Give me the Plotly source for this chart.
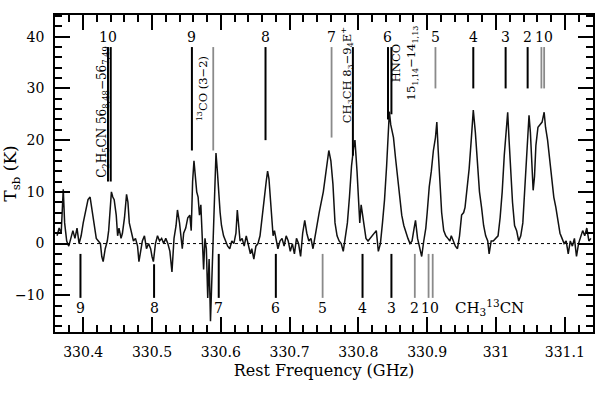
import plotly.graph_objects as go

# spectrum
freq_ghz = [
    330.362, 330.365, 330.368, 330.371, 330.373, 330.376, 330.379, 330.382, 330.385, 330.388,
    330.391, 330.394, 330.397, 330.400, 330.404, 330.407, 330.410, 330.413, 330.416, 330.419,
    330.422, 330.425, 330.427, 330.429, 330.432, 330.435, 330.437, 330.439, 330.441, 330.443,
    330.445, 330.448, 330.450, 330.452, 330.455, 330.457, 330.460, 330.463, 330.465, 330.467,
    330.470, 330.473, 330.476, 330.479, 330.481, 330.483, 330.486, 330.489, 330.492, 330.495,
    330.498, 330.500, 330.502, 330.505, 330.508, 330.511, 330.514, 330.517, 330.520, 330.523,
    330.526, 330.529, 330.532, 330.535, 330.537, 330.540, 330.542, 330.544, 330.546, 330.549,
    330.552, 330.555, 330.557, 330.559, 330.561, 330.563, 330.565, 330.567, 330.569, 330.571,
    330.573, 330.575, 330.577, 330.579, 330.581, 330.583, 330.585, 330.587, 330.589, 330.591,
    330.593, 330.595, 330.597, 330.599, 330.601, 330.604, 330.607, 330.610, 330.613, 330.616,
    330.619, 330.622, 330.624, 330.626, 330.628, 330.631, 330.634, 330.637, 330.640, 330.643,
    330.645, 330.648, 330.651, 330.654, 330.657, 330.660, 330.663, 330.666, 330.668, 330.670,
    330.672, 330.674, 330.676, 330.678, 330.680, 330.683, 330.686, 330.689, 330.692, 330.695,
    330.698, 330.701, 330.704, 330.707, 330.710, 330.713, 330.716, 330.719, 330.722, 330.725,
    330.728, 330.731, 330.734, 330.737, 330.740, 330.743, 330.746, 330.749, 330.752, 330.755,
    330.757, 330.760, 330.763, 330.766, 330.769, 330.772, 330.775, 330.778, 330.781, 330.784,
    330.787, 330.790, 330.793, 330.795, 330.798, 330.800, 330.802, 330.804, 330.806, 330.808,
    330.811, 330.814, 330.817, 330.820, 330.823, 330.826, 330.829, 330.832, 330.835, 330.838,
    330.841, 330.843, 330.845, 330.847, 330.849, 330.851, 330.854, 330.857, 330.860, 330.863,
    330.866, 330.869, 330.872, 330.875, 330.878, 330.881, 330.883, 330.886, 330.889, 330.892,
    330.895, 330.898, 330.900, 330.903, 330.906, 330.909, 330.912, 330.914, 330.916, 330.918,
    330.921, 330.924, 330.927, 330.930, 330.933, 330.935, 330.938, 330.941, 330.944, 330.947,
    330.950, 330.953, 330.955, 330.958, 330.961, 330.964, 330.967, 330.970, 330.973, 330.976,
    330.979, 330.982, 330.985, 330.988, 330.990, 330.993, 330.996, 331.000, 331.003, 331.006,
    331.009, 331.012, 331.015, 331.017, 331.019, 331.021, 331.024, 331.027, 331.030, 331.033,
    331.036, 331.039, 331.041, 331.044, 331.046, 331.048, 331.050, 331.052, 331.054, 331.056,
    331.058, 331.061, 331.064, 331.067, 331.070, 331.072, 331.075, 331.078, 331.081, 331.084,
    331.087, 331.090, 331.093, 331.096, 331.099, 331.102, 331.105, 331.108, 331.111, 331.114,
    331.117, 331.120, 331.123, 331.126, 331.129, 331.132, 331.135, 331.138,
]
t_sb = [
    1.5, 3.0, 2.0, 10.5, 4.0, 0.5, -0.5, 1.0, 2.5, 1.0,
    3.0, 0.0, 1.5, 4.0, 6.5, 8.5, 9.0, 6.0, 3.0, 1.0,
    0.5, 0.0, -2.5, -3.5, -1.0, 0.5, 2.5, 7.5, 10.0, 9.0,
    8.5, 5.5, 1.5, 3.0, 1.0, 2.0, 5.0, 9.5, 8.0, 4.0,
    2.0, 0.5, 1.0, -0.5, -3.5, -1.5, 0.5, 1.5, -1.0, 0.0,
    -1.0, -2.5, -3.5, 0.0, 1.5, 0.5, 1.0, 0.0, 1.0, 0.0,
    -1.5, -5.5, 1.0, 3.5, 6.5, 4.0, 1.0, -1.0, 2.0, 3.0,
    5.0, 5.5, 2.5, 12.0, 16.0, 12.5, 10.0, 9.0, 5.5, 7.5,
    0.5, -5.0, 1.0, -1.0, -10.5, -3.0, -15.0, -6.0, 4.0, 12.0,
    17.5, 14.0, 9.0, 6.0, 3.5, 1.5, 0.5, -0.5, -1.0, 0.5,
    0.0, 2.0, 6.5, 3.0, 0.5, 1.0, -0.5, 1.5, 0.0, -2.0,
    -1.0, -3.0, -0.5, 0.0, 1.5, 4.5, 8.5, 12.0, 14.0, 12.5,
    8.5, 4.0, 1.5, 2.5, 1.0, -1.0, 0.5, 1.0, -0.5, 1.5,
    0.5, -1.5, 0.0, -2.0, 1.0, 0.0, -2.5, 2.0, 4.5, 2.0,
    0.5, 1.0, -1.0, 1.5, 3.5, 6.0, 8.0, 10.0, 13.0, 16.0,
    18.0, 16.0, 11.5, 4.0, 1.5, 0.5, 0.0, -1.5, 1.0, 4.0,
    9.0, 15.0, 18.5, 20.0, 14.0, 9.0, 4.0, 7.5, 5.5, 4.5,
    1.0, 0.5, 1.0, 1.5, 2.0, 2.5, -1.5, 0.0, 4.0, 8.5,
    15.0, 21.0, 25.5, 23.0, 22.0, 20.5, 16.5, 12.5, 8.5, 5.5,
    3.5, 2.0, 1.0, 0.0, 0.5, 3.0, 4.5, 1.0, -0.5, -2.5,
    0.5, 3.0, 6.0, 11.0, 14.0, 18.0, 20.5, 23.5, 18.0, 13.0,
    6.0, 2.5, 1.5, 1.0, 0.5, 1.5, 0.5, -0.5, -1.0, 1.5,
    5.5, 6.0, 7.0, 11.0, 14.5, 20.0, 25.8, 21.5, 14.5, 10.0,
    7.0, 3.5, 1.5, 0.5, -2.0, 0.5, 0.5, 1.0, 1.5, 5.0,
    10.0, 17.0, 22.0, 25.4, 20.0, 14.0, 8.0, 3.5, 2.5, 0.5,
    1.5, 4.0, 9.0, 14.0, 21.0, 24.8, 21.5, 15.0, 10.3, 13.0,
    19.0, 22.5, 23.0, 23.5, 25.4, 22.5, 20.0, 16.0, 12.0, 9.0,
    7.0, 4.0, 2.0, 1.0, 0.0, 0.5, -2.0, 0.5, -0.5, 1.0,
    -2.5, 0.0, 1.5, 2.5, 1.5, 3.0, 0.5, 1.0,
]

# CH3CN K ladder (top markers)
ch3cn_k = ["10", "9", "8", "7", "6", "5", "4", "3", "2", "1", "0"]
ch3cn_freq = [330.436, 330.558, 330.665, 330.761, 330.843, 330.912,
              330.967, 331.014, 331.046, 331.066, 331.070]
ch3cn_low = [12, 18, 20, 20.5, 24, 30, 30, 30, 30, 30, 30]
ch3cn_gray = [False, False, False, True, False, True, False, False, False, True, True]

# other species (top markers)
other_name = ["C<sub>2</sub>H<sub>5</sub>CN 56<sub>8,48</sub>\u221256<sub>7,49</sub>",
              "<sup>13</sup>CO (3\u22122)",
              "CH<sub>3</sub>CH 8<sub>3</sub>\u22129<sub>4</sub>E<sup>+</sup>",
              "HNCO<br>15<sub>1,14</sub>\u221214<sub>1,13</sub>"]
other_freq = [330.440, 330.589, 330.792, 330.848]
other_low = [12, 18, 17, 25]
other_gray = [False, True, False, False]

# CH3 13CN K ladder (bottom markers)
c13_k = ["9", "8", "7", "6", "5", "4", "3", "2", "1", "0"]
c13_freq = [330.396, 330.503, 330.597, 330.680, 330.748,
            330.806, 330.848, 330.882, 330.902, 330.908]
c13_high = [-2, -4, -2, -2, -2, -2, -2, -2, -2, -2]
c13_gray = [False, False, False, False, True, False, False, True, True, True]

FONT = "DejaVu Serif"
top_y = 38
bot_y = -10.5


def marker_xy(freqs, y0s, y1s):
    xs, ys = [], []
    for f, a, b in zip(freqs, y0s, y1s):
        xs += [f, f, None]
        ys += [a, b, None]
    return xs, ys


fig = go.Figure()

fig.add_trace(go.Scatter(x=freq_ghz, y=t_sb, mode="lines",
                         line=dict(color="#111111", width=1.5), hoverinfo="skip"))

for gray in (False, True):
    col = "#8a8a8a" if gray else "#000000"
    f1 = [f for f, g in zip(ch3cn_freq, ch3cn_gray) if g == gray]
    l1 = [l for l, g in zip(ch3cn_low, ch3cn_gray) if g == gray]
    f2 = [f for f, g in zip(other_freq, other_gray) if g == gray]
    l2 = [l for l, g in zip(other_low, other_gray) if g == gray]
    f3 = [f for f, g in zip(c13_freq, c13_gray) if g == gray]
    h3 = [h for h, g in zip(c13_high, c13_gray) if g == gray]
    xs, ys = marker_xy(f1 + f2, [top_y] * (len(f1) + len(f2)), l1 + l2)
    xb, yb = marker_xy(f3, h3, [bot_y] * len(f3))
    fig.add_trace(go.Scatter(x=xs + xb, y=ys + yb, mode="lines",
                             line=dict(color=col, width=2 if not gray else 1.8),
                             hoverinfo="skip", connectgaps=False))

ann = []
# top K labels; K=1 and K=0 share one "10" label
for k, f in zip(ch3cn_k[:-2], ch3cn_freq[:-2]):
    ann.append(dict(x=f, y=40, text=k))
ann.append(dict(x=(ch3cn_freq[-2] + ch3cn_freq[-1]) / 2 + 0.002, y=40, text="10"))
for k, f in zip(c13_k[:-2], c13_freq[:-2]):
    ann.append(dict(x=f, y=-12.4, text=k))
ann.append(dict(x=(c13_freq[-2] + c13_freq[-1]) / 2 - 0.001, y=-12.4, text="10"))
ann.append(dict(x=330.99, y=-12.4, text="CH<sub>3</sub><sup>13</sup>CN", font=dict(size=15)))

# rotated species labels
ann.append(dict(x=other_freq[0] - 0.011, y=25.5, text=other_name[0], textangle=-90,
                font=dict(size=12)))
ann.append(dict(x=other_freq[1] - 0.015, y=30, text=other_name[1], textangle=-90,
                font=dict(size=11.5)))
ann.append(dict(x=other_freq[2] - 0.009, y=32.5, text=other_name[2], textangle=-90,
                font=dict(size=11.5)))
ann.append(dict(x=other_freq[3] + 0.018, y=35, text=other_name[3], textangle=-90,
                font=dict(size=11.5)))

for a in ann:
    a.setdefault("font", dict(size=14))
    a["font"] = dict(family=FONT, color="black", **a["font"])
    a.update(xref="x", yref="y", showarrow=False)

axis_common = dict(
    showgrid=False, zeroline=False, showline=True, linecolor="black", linewidth=1.5,
    mirror="allticks", ticks="inside", ticklen=15, tickwidth=1.5, tickcolor="black",
    tickfont=dict(family=FONT, size=14, color="black"), automargin=False,
)

fig.update_layout(
    width=599, height=395,
    margin=dict(l=55, r=6, t=15, b=63),
    paper_bgcolor="white", plot_bgcolor="white",
    showlegend=False,
    annotations=ann,
    shapes=[dict(type="line", xref="paper", yref="y", x0=0, x1=1, y0=0, y1=0,
                 line=dict(color="black", width=1, dash="dot"), layer="below")],
    xaxis=dict(axis_common, range=[330.359, 331.141], dtick=0.1, tick0=330.0,
               minor=dict(dtick=0.02, ticklen=7, ticks="inside", tickcolor="black", tickwidth=1.5),
               ticklabelstandoff=6,
               title=dict(text="Rest Frequency (GHz)", font=dict(family=FONT, size=16, color="black"),
                          standoff=6)),
    yaxis=dict(axis_common, range=[-17.1, 44.2], dtick=10,
               minor=dict(dtick=2, ticklen=7, ticks="inside", tickcolor="black", tickwidth=1.5),
               ticklabelstandoff=6,
               title=dict(text="T<sub>sb</sub> (K)", font=dict(family=FONT, size=17, color="black"),
                          standoff=4)),
)

# page body has a default 8px margin; drop it so the figure sits at the corner
fig.write_html("out.html", config={"displayModeBar": False},
               post_script="document.body.style.margin='0';")
